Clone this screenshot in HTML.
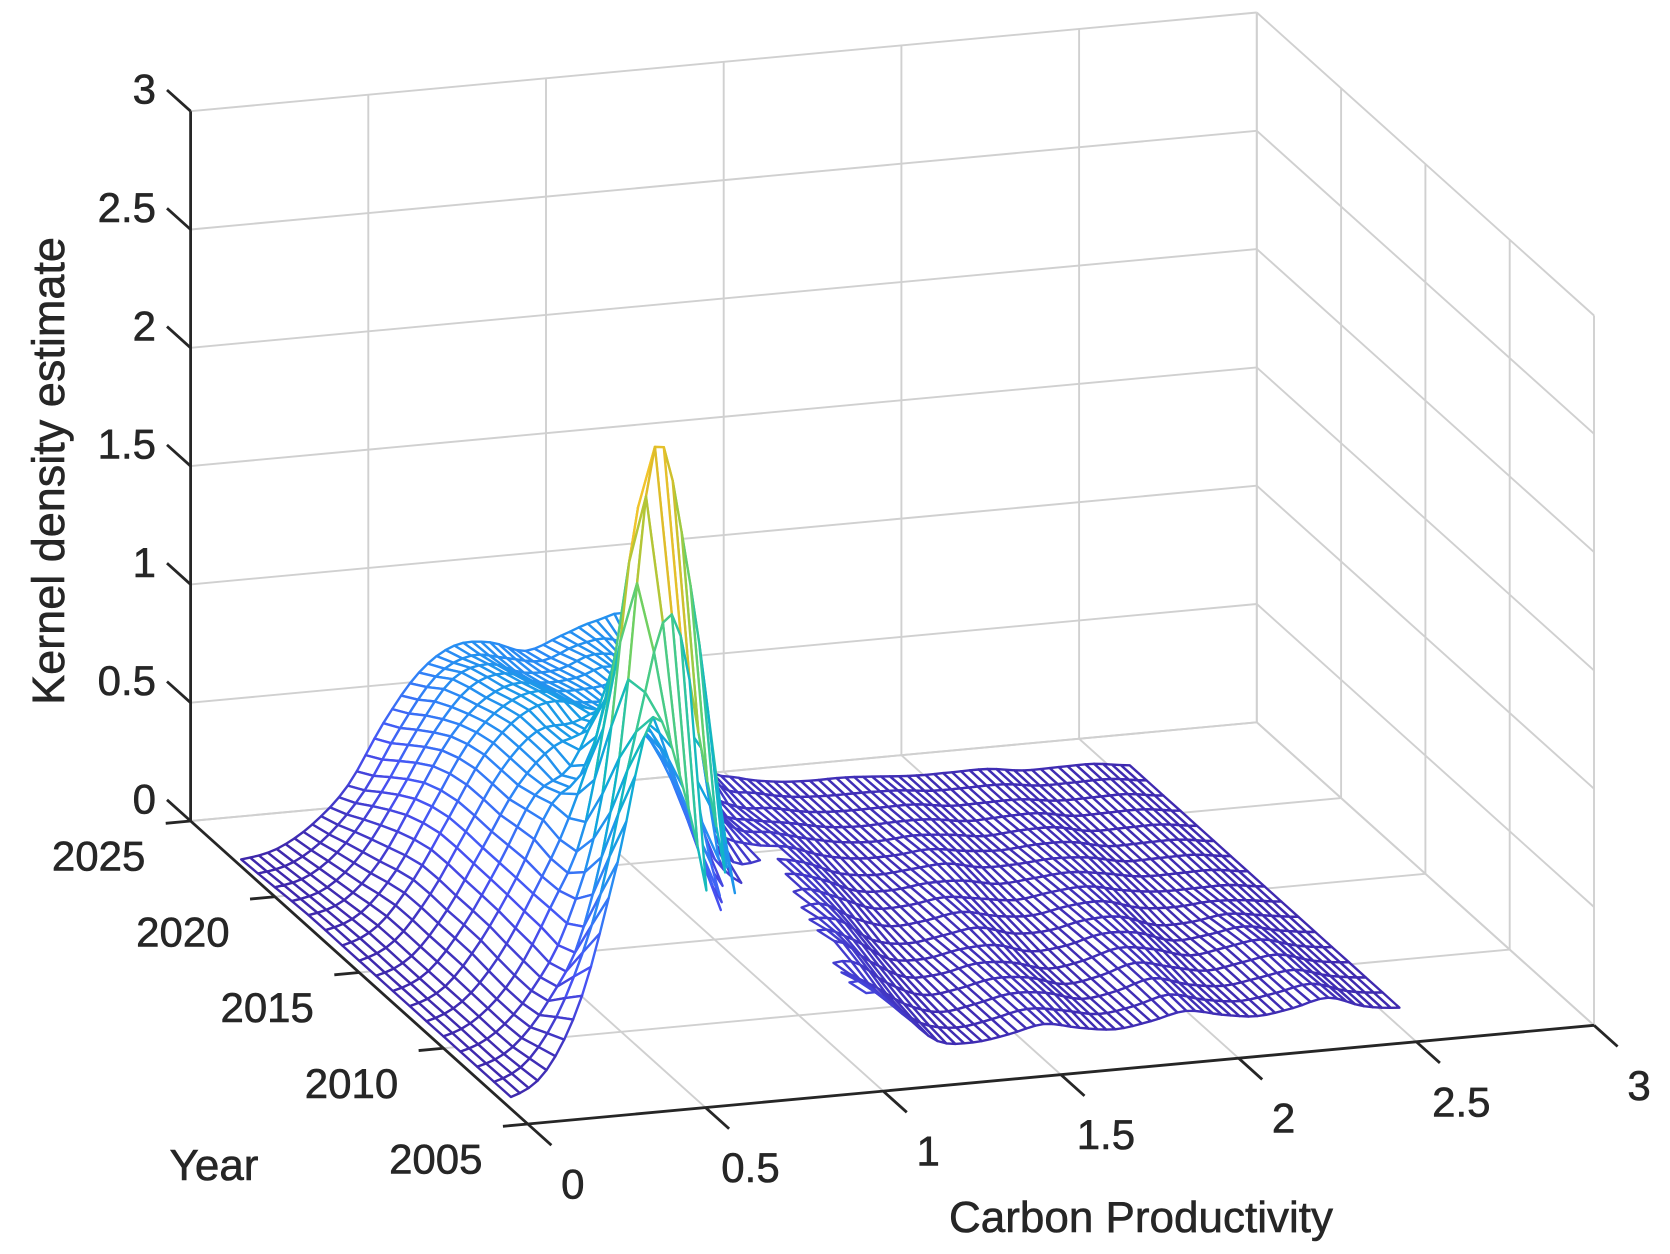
<!DOCTYPE html>
<html><head><meta charset="utf-8"><title>Kernel density surface</title>
<style>
html,body{margin:0;padding:0;background:#fff;}
svg{display:block;font-family:"Liberation Sans",Arial,sans-serif;}
</style></head>
<body>
<svg id="chart" width="1670" height="1254" viewBox="0 0 1670 1254" xmlns="http://www.w3.org/2000/svg">
<rect x="0" y="0" width="1670" height="1254" fill="#fff"/>
<g id="grid"></g>
<g id="surface"></g>
<g id="axes"></g>
<g id="labels"></g>
<text x="214" y="1180" font-size="44" fill="#262626" stroke="#262626" stroke-width="0.6" text-anchor="middle">Year</text>
<text x="1141" y="1232" font-size="44" fill="#262626" stroke="#262626" stroke-width="0.6" text-anchor="middle">Carbon Productivity</text>
<text x="0" y="0" font-size="45" fill="#262626" stroke="#262626" stroke-width="0.6" text-anchor="middle" transform="translate(64,471) rotate(-90)">Kernel density estimate</text>
</svg>
<script>
const xs = [0,0.1,0.2,0.3,0.4,0.5,0.6,0.7,0.8,0.9,1.0,1.1,1.2,1.3,1.4,1.5,1.6,1.7,1.8,1.9,2.0,2.1,2.2,2.3,2.4,2.5];
const years = [2006,2008,2010,2012,2014,2016,2018,2020,2022];
const z2006 = [.05,.15,.45,1.0,1.6,1.2,.5,.15,.05,.1,.35,.25,.12,.1,.12,.15,.12,.1,.12,.15,.12,.1,.12,.15,.1,.08];
const z2008 = [.05,.12,.3,.6,1.3,2.6,2.0,.9,.2,.1,.3,.25,.15,.1,.12,.15,.14,.1,.12,.16,.12,.1,.12,.14,.1,.08];
const z2010 = [.05,.12,.28,.55,.9,1.7,2.2,1.4,.5,.15,.2,.3,.2,.12,.12,.15,.14,.1,.12,.16,.14,.1,.12,.14,.1,.08];
const z2012 = [.05,.12,.3,.55,.85,1.0,1.5,1.3,.7,.25,.15,.25,.25,.15,.12,.14,.16,.12,.12,.15,.15,.1,.1,.12,.1,.08];
const z2014 = [.05,.12,.3,.55,.8,.95,1.0,1.1,.9,.5,.25,.2,.25,.2,.14,.14,.16,.14,.12,.14,.15,.12,.1,.1,.1,.08];
const z2016 = [.05,.12,.3,.55,.8,.95,1.0,.95,.9,.75,.45,.25,.25,.22,.16,.14,.15,.16,.13,.13,.14,.13,.1,.1,.1,.08];
const z2018 = [.05,.1,.25,.5,.75,.9,.95,.9,.9,.9,.7,.4,.25,.22,.18,.15,.14,.15,.14,.12,.13,.13,.1,.1,.1,.08];
const z2020 = [.04,.08,.2,.4,.65,.85,.9,.85,.85,.9,.85,.6,.3,.2,.18,.15,.14,.14,.14,.12,.12,.12,.1,.1,.1,.08];
const z2022 = [.03,.06,.15,.3,.55,.75,.85,.85,.8,.85,.9,.9,.6,.25,.18,.15,.14,.14,.13,.12,.12,.12,.1,.1,.1,.08];
const zRows = [z2006,z2008,z2010,z2012,z2014,z2016,z2018,z2020,z2022];
const gapStart = [.5,.7,.75,.85,.95,1.1,1.4,1.4,1.4];
const gapEnd = [1.0,1.05,1.1,1.15,1.2,1.25,1.4,1.4,1.4];
const zTicks = [0,0.5,1,1.5,2,2.5,3];
const zTickLabels = ["0","0.5","1","1.5","2","2.5","3"];
const xTicks = [0,0.5,1,1.5,2,2.5,3];
const xTickLabels = ["0","0.5","1","1.5","2","2.5","3"];
const yearTicks = [2005,2010,2015,2020,2025];
const yearTickLabels = ["2005","2010","2015","2020","2025"];

const NS = "http://www.w3.org/2000/svg";
const X0 = 527.8, Y0 = 1124, XU = [355.4,-32.9], YU = [-16.86,-15.15], ZU = -236.6;
const XMIN = 0, XMAX = 3, YRMIN = 2005, YRMAX = 2025, ZMAX = 3;
function proj(x, yr, z){
  return [X0 + XU[0]*x + YU[0]*(yr-2005), Y0 + XU[1]*x + YU[1]*(yr-2005) + ZU*z];
}
function line(g, a, b, color, w, name){
  const l = document.createElementNS(NS,"line");
  l.setAttribute("x1",a[0]); l.setAttribute("y1",a[1]);
  l.setAttribute("x2",b[0]); l.setAttribute("y2",b[1]);
  l.setAttribute("stroke",color); l.setAttribute("stroke-width",w);
  
  
  g.appendChild(l);
}
function txt(g, p, s, anchor, name){
  const t = document.createElementNS(NS,"text");
  t.setAttribute("x",p[0]); t.setAttribute("y",p[1]);
  t.setAttribute("font-size","42"); t.setAttribute("fill","#262626");
  t.setAttribute("stroke","#262626"); t.setAttribute("stroke-width","0.6");
  t.setAttribute("text-anchor",anchor); t.setAttribute("dominant-baseline","central");
  t.textContent = s;
  
  
  g.appendChild(t);
}
const grid = document.getElementById("grid");
const GC = "#d0d0d0", GW = 1.9;
zTicks.forEach(z=>{
  line(grid, proj(XMIN,YRMAX,z), proj(XMAX,YRMAX,z), GC, GW, "back-wall-gridline");
  line(grid, proj(XMAX,YRMAX,z), proj(XMAX,YRMIN,z), GC, GW, "side-wall-gridline");
});
xTicks.forEach(x=>{
  if (x>XMIN) line(grid, proj(x,YRMAX,0), proj(x,YRMAX,ZMAX), GC, GW, "back-wall-vertical-gridline");
  if (x>XMIN) line(grid, proj(x,YRMIN,0), proj(x,YRMAX,0), GC, GW, "floor-gridline-x");
});
yearTicks.forEach(y=>{
  line(grid, proj(XMAX,y,0), proj(XMAX,y,ZMAX), GC, GW, "side-wall-vertical-gridline");
  if (y>YRMIN) line(grid, proj(XMIN,y,0), proj(XMAX,y,0), GC, GW, "floor-gridline-year");
});

function cr(p0,p1,p2,p3,t){
  const t2=t*t, t3=t2*t;
  return 0.5*((2*p1)+(-p0+p2)*t+(2*p0-5*p1+4*p2-p3)*t2+(-p0+3*p1-3*p2+p3)*t3);
}
function sampleArr(arr, pos, n){
  let i = Math.floor(pos); if (i<0) i=0; if (i>n-2) i=n-2;
  const t = pos - i;
  return cr(arr[Math.max(i-1,0)], arr[i], arr[i+1], arr[Math.min(i+2,n-1)], t);
}
function rowAt(row, x){
  return sampleArr(row, (x - xs[0])/(xs[1]-xs[0]), xs.length);
}
function lin(arr, yr){
  const pos = (yr-years[0])/(years[1]-years[0]);
  let i = Math.floor(pos); if (i<0) i=0; if (i>years.length-2) i=years.length-2;
  const t = pos - i;
  return arr[i]*(1-t)+arr[i+1]*t;
}
const xf = [], yf = [];
const xStepsPer = 4, xLast = xs[xs.length-1];
const nX = (xs.length-1)*xStepsPer;
for (let i=0;i<=nX;i++) xf.push(xs[0] + (xLast-xs[0])*i/nX);
const nY = (years.length-1)*2;
for (let j=0;j<=nY;j++) yf.push(years[0] + (years[years.length-1]-years[0])*j/nY);
const Z = yf.map(yr=>{
  const pos = (yr-years[0])/(years[1]-years[0]);
  return xf.map(x=>{
    const col = zRows.map(r=>rowAt(r,x));
    return Math.max(0, sampleArr(col, pos, years.length));
  });
});
let zmax = 0; zRows.forEach(r=>r.forEach(v=>{ if (v>zmax) zmax=v; }));
const parulaStops = [[0.2422,0.1504,0.6603],[0.2810,0.3228,0.9579],[0.1786,0.5289,0.9682],[0.0689,0.6448,0.8785],[0.0641,0.7198,0.7649],[0.2161,0.7843,0.5923],[0.4420,0.8185,0.3830],[0.6637,0.7871,0.2298],[0.8651,0.7392,0.1624],[0.9932,0.7878,0.1806],[0.9763,0.9831,0.0538]];
function parula(v){
  v = Math.pow(Math.max(0,Math.min(1,v)),1.35)*10;
  let i = Math.floor(v); if (i>9) i=9;
  const t = v-i, a=parulaStops[i], b=parulaStops[i+1];
  const c = a.map((q,k)=>Math.round(255*(q+(b[k]-q)*t)));
  return "rgb("+c[0]+","+c[1]+","+c[2]+")";
}
const quads = [];
for (let j=0;j<nY;j++){
  for (let i=0;i<nX;i++){
    const cx = (xf[i]+xf[i+1])/2, cy = (yf[j]+yf[j+1])/2;
    const gs = lin(gapStart, cy), ge = lin(gapEnd, cy);
    if (cx>gs && cx<ge) continue;
    const pts = [proj(xf[i],yf[j],Z[j][i]), proj(xf[i+1],yf[j],Z[j][i+1]), proj(xf[i+1],yf[j+1],Z[j+1][i+1]), proj(xf[i],yf[j+1],Z[j+1][i])];
    const zav = (Z[j][i]+Z[j][i+1]+Z[j+1][i+1]+Z[j+1][i])/4;
    const depth = proj(cx, cy, 0)[1];
    quads.push({pts, zav, depth});
  }
}
quads.sort((a,b)=>a.depth-b.depth);
const surf = document.getElementById("surface");
quads.forEach(q=>{
  const p = document.createElementNS(NS,"polygon");
  p.setAttribute("points", q.pts.map(v=>v[0].toFixed(1)+","+v[1].toFixed(1)).join(" "));
  p.setAttribute("fill","#fff");
  p.setAttribute("stroke", parula(q.zav/zmax));
  p.setAttribute("stroke-width","2.4");
  p.setAttribute("stroke-linejoin","round");
  
  
  surf.appendChild(p);
});

const axes = document.getElementById("axes");
const AC = "#262626", AW = 2.8;
line(axes, proj(XMIN,YRMAX,0), proj(XMIN,YRMAX,ZMAX), AC, AW, "z-axis-line");
line(axes, proj(XMIN,YRMAX,0), proj(XMIN,YRMIN,0), AC, AW, "year-axis-line");
line(axes, proj(XMIN,YRMIN,0), proj(XMAX,YRMIN,0), AC, AW, "x-axis-line");
const labels = document.getElementById("labels");
zTicks.forEach((z,k)=>{
  const a = proj(XMIN,YRMAX,z), b = proj(XMIN,YRMAX+1.4,z);
  line(axes, a, b, AC, AW, "z-tick");
  txt(labels, [156, a[1]-22], zTickLabels[k], "end", "z-tick-label");
});
yearTicks.forEach((y,k)=>{
  const a = proj(XMIN,y,0), b = proj(XMIN-0.07,y,0);
  line(axes, a, b, AC, AW, "year-tick");
  txt(labels, [a[0]-92, a[1]+35], yearTickLabels[k], "middle", "year-tick-label");
});
xTicks.forEach((x,k)=>{
  const a = proj(x,YRMIN,0), b = proj(x,YRMIN-1.4,0);
  line(axes, a, b, AC, AW, "x-tick");
  txt(labels, [a[0]+45, a[1]+60], xTickLabels[k], "middle", "x-tick-label");
});
</script>
</body></html>
